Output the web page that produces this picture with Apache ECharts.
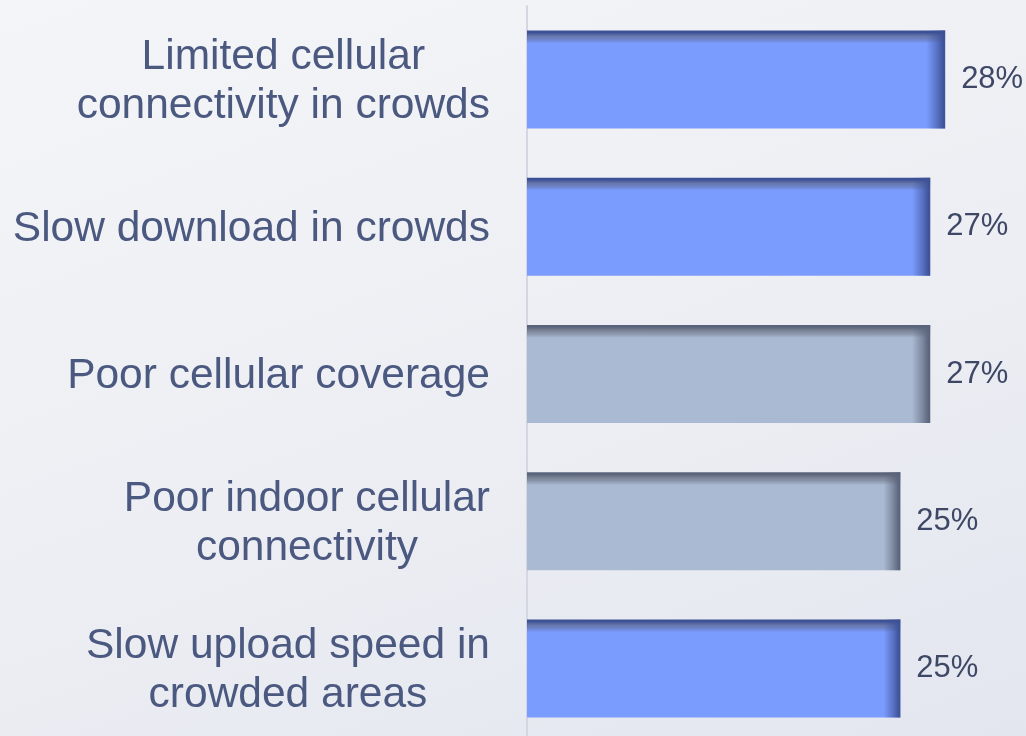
<!DOCTYPE html>
<html>
<head>
<meta charset="utf-8">
<script src="https://cdn.jsdelivr.net/npm/echarts@6/dist/echarts.min.js"></script>
<style>
    html, body { margin: 0; padding: 0; overflow: hidden; }
    body {
        width: 1026px;
        height: 736px;
        background: linear-gradient(160deg, #f4f5f8 0%, #eceef3 55%, #e3e6ef 100%);
    }
    /* 比窗口高一点，最后一根柱子的位置才对 */
    #chart { width: 1026px; height: 746px; }
</style>
</head>
<body>
<div id="chart"></div>
<script>
// 数据
const categories = [
    "Limited cellular\nconnectivity in crowds",
    "Slow download in crowds",
    "Poor cellular coverage",
    "Poor indoor cellular\nconnectivity",
    "Slow upload speed in\ncrowded areas",
];
const values = [28, 27, 27, 25, 25];
// 'blue' or 'grey' for each bar
const barKinds = ["blue", "blue", "grey", "grey", "blue"];

const palette = {
    blue: { base: "#7b9cff", edge: "#3d5196", rgb: "61,81,150" },
    grey: { base: "#aabad2", edge: "#59637a", rgb: "89,99,122" },
};

const chart = echarts.init(document.getElementById("chart"));

// 底色（顶部加一点暗边）
const baseData = values.map((v, i) => {
    const p = palette[barKinds[i]];
    return {
        value: v,
        itemStyle: {
            color: new echarts.graphic.LinearGradient(0, 0, 0, 1, [
                { offset: 0, color: p.edge },
                { offset: 0.02, color: p.edge },
                { offset: 0.06, color: "rgba(" + p.rgb + ",0.75)" },
                { offset: 0.13, color: p.base },
                { offset: 1, color: p.base },
            ]),
        },
    };
});

// 右侧暗边，叠在上面
const edgeData = values.map((v, i) => {
    const p = palette[barKinds[i]];
    return {
        value: v,
        itemStyle: {
            color: new echarts.graphic.LinearGradient(0, 0, 1, 0, [
                { offset: 0, color: "rgba(" + p.rgb + ",0)" },
                { offset: 0.955, color: "rgba(" + p.rgb + ",0)" },
                { offset: 0.98, color: "rgba(" + p.rgb + ",0.55)" },
                { offset: 0.995, color: "rgba(" + p.rgb + ",0.95)" },
                { offset: 1, color: p.edge },
            ]),
        },
    };
});

const option = {
    backgroundColor: "transparent",
    animation: false,
    grid: {
        left: 527,
        top: 6,
        width: 448,
        height: 736,
        containLabel: false,
    },
    xAxis: {
        type: "value",
        min: 0,
        max: 30,
        show: false,
    },
    yAxis: {
        type: "category",
        inverse: true,
        data: categories,
        axisTick: { show: false },
        axisLine: {
            show: true,
            lineStyle: { color: "#d4d7e1", width: 2 },
        },
        axisLabel: {
            margin: 37,
            align: "right",
            padding: [5, 0, 0, 0],
            formatter: (val) =>
                val.split("\n").map((l) => "{c|" + l + "}").join("\n"),
            rich: {
                c: {
                    align: "center",
                    fontFamily: "Liberation Sans, Arial, sans-serif",
                    fontSize: 42.5,
                    lineHeight: 49,
                    color: "#4b5980",
                },
            },
        },
    },
    series: [
        {
            type: "bar",
            data: baseData,
            barWidth: 98,
            label: {
                show: true,
                position: "right",
                distance: 16,
                padding: [4, 0, 0, 0],
                formatter: "{c}%",
                fontFamily: "Liberation Sans, Arial, sans-serif",
                fontSize: 31,
                color: "#3e4866",
            },
        },
        {
            type: "bar",
            data: edgeData,
            barWidth: 98,
            barGap: "-100%",
            silent: true,
            label: { show: false },
        },
    ],
};

chart.setOption(option);
</script>
</body>
</html>
